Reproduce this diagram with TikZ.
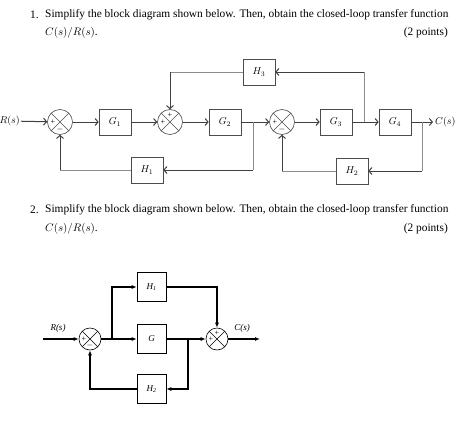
\documentclass[tikz,border=0pt]{standalone}
\usepackage{fontspec}
\setmainfont{Liberation Serif}
\usetikzlibrary{arrows.meta,positioning,calc}
\tikzset{
  blk/.style={draw=black!70, line width=0.6pt, minimum width=32pt, minimum height=26pt, inner sep=0pt},
  sumj/.style={draw=black!70, circle, line width=0.6pt, minimum size=25pt, inner sep=0pt,
    path picture={\draw[black!70, line width=0.6pt] (path picture bounding box.north west) -- (path picture bounding box.south east)
      (path picture bounding box.north east) -- (path picture bounding box.south west);}},
  sig/.style={font=\fontsize{8}{8}\selectfont, inner sep=0pt},
  wire/.style={black!75, line width=1pt, -{Straight Barb[length=3pt,width=7pt]}},
  fbk/.style={black!45, line width=0.5pt},
  blkb/.style={draw, line width=0.6pt, minimum width=29pt, minimum height=29pt, inner sep=0pt, font=\itshape\small},
  sumb/.style={draw, circle, line width=0.6pt, minimum size=22pt, inner sep=0pt,
    path picture={\draw[line width=0.6pt] (path picture bounding box.north west) -- (path picture bounding box.south east)
      (path picture bounding box.north east) -- (path picture bounding box.south west);}},
  wireb/.style={line width=1.3pt},
  arrb/.style={line width=1.3pt, -{Latex[length=5pt,width=4pt]}},
  ttl/.style={font=\fontsize{11.4}{13}\selectfont, inner sep=0pt}
}
\begin{document}
\begin{tikzpicture}[x=1pt,y=-1pt]
\useasboundingbox (0,0) rectangle (474,423);
\node[ttl, anchor=west] (n1) at (30,15) {1.};
\node[ttl, anchor=west] (q1a) at (45,15) {Simplify the block diagram shown below. Then, obtain the closed-loop transfer function};
\node[ttl, anchor=west] (q1b) at (45,33) {$C(s)/R(s)$.};
\node[ttl, anchor=east] (pt1) at (448,33) {(2 points)};
\node[sumj] (s1) at (60,122) {};
\node[blk] (g1) at (115,122) {$G_1$};
\node[sumj] (s2) at (170,122) {};
\node[blk] (g2) at (225,122) {$G_2$};
\node[sumj] (s3) at (282,122) {};
\node[blk] (g3) at (336,122) {$G_3$};
\node[blk] (g4) at (395,122) {$G_4$};
\node[blk] (h3) at (259,72) {$H_3$};
\node[blk] (h1) at (147,170) {$H_1$};
\node[blk] (h2) at (352,171) {$H_2$};
\node[anchor=east, inner sep=1pt] (rin) at (21,121) {$R(s)$};
\coordinate (cout) at (433,122);
\node[anchor=west, inner sep=2pt] (cs) at (cout) {$C(s)$};
\coordinate (p1) at (253,122);
\coordinate (p3) at (364,122);
\coordinate (p2) at (422,122);
\node[sig] (s1p) at ($(s1)+(-7,0)$) {+};
\node[sig] (s1m) at ($(s1)+(0,7)$) {$-$};
\node[sig] (s2l) at ($(s2)+(-7,0)$) {+};
\node[sig] (s2t) at ($(s2)+(0,-7)$) {+};
\node[sig] (s3p) at ($(s3)+(-7,0)$) {+};
\node[sig] (s3m) at ($(s3)+(0,7)$) {$-$};
\draw[wire] (rin) -- (s1);
\draw[wire] (s1) -- (g1);
\draw[wire] (g1) -- (s2);
\draw[wire] (s2) -- (g2);
\draw[wire] (g2) -- (s3);
\draw[wire] (s3) -- (g3);
\draw[wire] (g3) -- (g4);
\draw[wire] (g4) -- (cout);
\draw[fbk] (p3) -- (p3 |- h3);
\draw[wire] (p3 |- h3) -- (h3);
\draw[fbk] (h3) -- (s2 |- h3);
\draw[wire] (s2 |- h3) -- (s2);
\draw[fbk] (p2) -- (p2 |- h2);
\draw[wire] (p2 |- h2) -- (h2);
\draw[fbk] (h2) -- (s3 |- h2);
\draw[wire] (s3 |- h2) -- (s3);
\draw[fbk] (p1) -- (p1 |- h1);
\draw[wire] (p1 |- h1) -- (h1);
\draw[fbk] (h1) -- (s1 |- h1);
\draw[wire] (s1 |- h1) -- (s1);
\node[ttl, anchor=west] (n2) at (30,210) {2.};
\node[ttl, anchor=west] (q2a) at (45,210) {Simplify the block diagram shown below. Then, obtain the closed-loop transfer function};
\node[ttl, anchor=west] (q2b) at (45,229) {$C(s)/R(s)$.};
\node[ttl, anchor=east] (pt2) at (448,229) {(2 points)};
\node[sumb] (sa) at (90,339) {};
\node[blkb] (hb1) at (151.5,287) {H\textsubscript{1}};
\node[blkb] (gb) at (151.5,339) {G};
\node[blkb] (hb2) at (151.5,389) {H\textsubscript{2}};
\node[sumb] (sb) at (217,339) {};
\coordinate (rin2) at (43,339);
\coordinate (cout2) at (260,339);
\coordinate (b1) at (112,339);
\coordinate (b2) at (188,339);
\node[font=\itshape\small] (rs2) at (58,328) {R(s)};
\node[font=\itshape\small] (cs2) at (242,328) {C(s)};
\node[sig] (sap) at ($(sa)+(-6,0)$) {+};
\node[sig] (sam) at ($(sa)+(0,6)$) {$-$};
\node[sig] (sbl) at ($(sb)+(-6,0)$) {+};
\node[sig] (sbt) at ($(sb)+(0,-6)$) {+};
\draw[arrb] (rin2) -- (sa);
\draw[wireb] (sa) -- (b1);
\draw[arrb] (b1) -- (gb);
\draw[arrb] (b1) |- (hb1);
\draw[arrb] (hb1) -| (sb);
\draw[wireb] (gb) -- (b2);
\draw[arrb] (b2) -- (sb);
\draw[arrb] (b2) |- (hb2);
\draw[arrb] (hb2) -| (sa);
\draw[arrb] (sb) -- (cout2);
\end{tikzpicture}
\end{document}
